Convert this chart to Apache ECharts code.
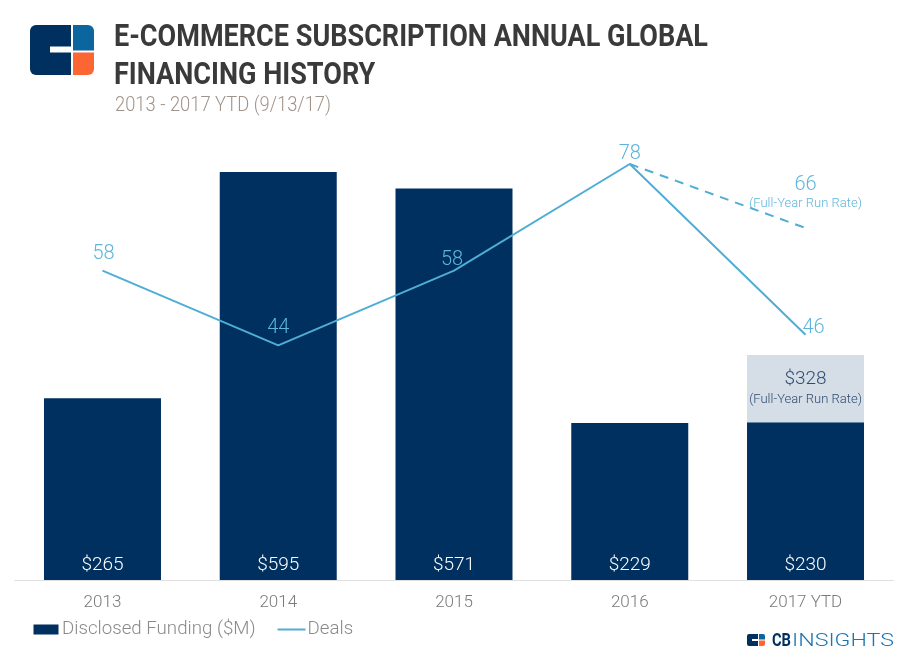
<!DOCTYPE html>
<html><head><meta charset="utf-8">
<script src="https://cdn.jsdelivr.net/npm/echarts@6/dist/echarts.min.js"></script>
<style>html,body{margin:0;padding:0;background:#fff}#c{width:909px;height:660px}</style>
</head><body><div id="c"></div>
<script>
const categories = ['2013', '2014', '2015', '2016', '2017 YTD'];
const funding = [265, 595, 571, 229, 230];
const fundingRunRate = [null, null, null, null, 328];
const deals = [58, 44, 58, 78, 46];
const dealsRunRate = [null, null, null, null, 66];
const titleLines = ['E-COMMERCE SUBSCRIPTION ANNUAL GLOBAL', 'FINANCING HISTORY'];
const subtitle = '2013 - 2017 YTD (9/13/17)';
const runRateNote = '(Full-Year Run Rate)';

const NAVY = '#00305f', LINE = '#4fadd6', LBL = '#5cb5dc';
const ctx = document.createElement('canvas').getContext('2d');
function fit(text, font, target) { ctx.font = font; return target / ctx.measureText(text).width; }

const titleFont = 'bold 31px Roboto';
const tScale = fit(titleLines[0], titleFont, 594);
const subFont = '300 20px Roboto';
const sScale = fit(subtitle, subFont, 216);
const cbFont = 'bold 18px Roboto';
const cbScale = fit('CB', cbFont, 19);
const insFont = '300 18px Roboto';
const insScale = fit('INSIGHTS', insFont, 102);

const runRatePiece = fundingRunRate.map((v, i) => v == null ? null : v - funding[i]);
const dealsProjection = dealsRunRate.map((v, i) => {
  if (v != null) return v;
  if (dealsRunRate[i + 1] != null) return deals[i];
  return null;
});
const dealOffsets = [[1, 3], [0, 3], [-2, 9], [0, 10], [8, 13]];

const chart = echarts.init(document.getElementById('c'));
chart.setOption({
  animation: false,
  textStyle: { fontFamily: 'Roboto' },
  grid: { left: 14.6, right: 15.6, top: 100, bottom: 80 },
  legend: {
    left: 33.5, top: 620, padding: 0, itemWidth: 28, itemHeight: 10, itemGap: 22,
    data: [{ name: 'Disclosed Funding ($M)', icon: 'path://M0,0H25V10H0Z' }, { name: 'Deals', icon: 'path://M0,0H28V2H0Z' }],
    textStyle: { fontSize: 18.7, color: '#8a8a8a', fontWeight: 300, fontFamily: 'Roboto', padding: [0, 0, 0, -3] }
  },
  xAxis: {
    type: 'category', data: categories,
    axisLine: { lineStyle: { color: '#e0e0e0', width: 1 } },
    axisTick: { show: false },
    axisLabel: { color: '#7a7a7a', fontSize: 17, fontWeight: 300, margin: 14 }
  },
  yAxis: [
    { type: 'value', min: 0, max: 700, show: false, splitLine: { show: false } },
    { type: 'value', min: 0, max: 90, show: false, splitLine: { show: false } }
  ],
  series: [
    {
      name: 'Disclosed Funding ($M)', type: 'bar', stack: 'f', data: funding, barWidth: 117,
      itemStyle: { color: NAVY },
      label: { show: true, position: 'insideBottom', distance: 5, color: '#fff', fontSize: 19, fontWeight: 300,
        formatter: p => '$' + p.value }
    },
    {
      name: 'Run Rate', type: 'bar', stack: 'f', data: runRatePiece, barWidth: 117,
      itemStyle: { color: '#d5dde6' },
      label: { show: true, position: 'inside',
        formatter: p => '{a|$' + fundingRunRate[p.dataIndex] + '}\n{b|' + runRateNote + '}',
        rich: { a: { fontSize: 19, color: '#2f4c70', lineHeight: 22, fontWeight: 300 },
                b: { fontSize: 13, color: '#2f4c70', lineHeight: 18, fontWeight: 300 } } }
    },
    {
      name: 'Deals', type: 'line', yAxisIndex: 1, data: deals.map((v, i) => ({
        value: v, label: { offset: dealOffsets[i] } })),
      symbol: 'circle', symbolSize: 0.01, showSymbol: true,
      lineStyle: { color: LINE, width: 2 }, itemStyle: { color: LINE },
      label: { show: true, position: 'top', distance: 10, color: LBL, fontSize: 20, fontWeight: 300 }
    },
    {
      name: 'Deals Run Rate', type: 'line', yAxisIndex: 1, data: dealsProjection,
      symbol: 'circle', symbolSize: 0.01, showSymbol: true,
      lineStyle: { color: LINE, width: 2, type: [9, 7] }, itemStyle: { color: LINE },
      label: { show: true, position: 'top', distance: 16,
        formatter: p => dealsRunRate[p.dataIndex] == null ? '' : '{a|' + p.value + '}\n{b|' + runRateNote + '}',
        rich: { a: { fontSize: 20, color: LBL, lineHeight: 22, fontWeight: 300 },
                b: { fontSize: 13, color: LBL, lineHeight: 16, fontWeight: 300 } } }
    }
  ],
  graphic: [
    { type: 'rect', shape: { x: 30, y: 25, width: 41, height: 50, r: [6, 0, 0, 6] }, style: { fill: NAVY } },
    { type: 'rect', shape: { x: 50, y: 46.5, width: 21, height: 6 }, style: { fill: '#fff' } },
    { type: 'rect', shape: { x: 73, y: 25, width: 21, height: 25.5, r: [0, 6, 0, 0] }, style: { fill: '#0b66a0' } },
    { type: 'rect', shape: { x: 73, y: 52.5, width: 21, height: 22.5, r: [0, 0, 6, 0] }, style: { fill: '#fc6633' } },
    { type: 'text', x: 114, y: 38, scaleX: tScale, style: { text: titleLines[0], font: titleFont, fill: '#3a3a3a', verticalAlign: 'middle' } },
    { type: 'text', x: 114, y: 76, scaleX: tScale, style: { text: titleLines[1], font: titleFont, fill: '#3a3a3a', verticalAlign: 'middle' } },
    { type: 'text', x: 115, y: 106, scaleX: sScale, style: { text: subtitle, font: subFont, fill: '#a0948a', verticalAlign: 'middle' } },
    { type: 'rect', shape: { x: 747, y: 634, width: 11, height: 12, r: [2, 0, 0, 2] }, style: { fill: NAVY } },
    { type: 'rect', shape: { x: 752, y: 639, width: 6, height: 2 }, style: { fill: '#fff' } },
    { type: 'rect', shape: { x: 759, y: 634, width: 6, height: 5.5, r: [0, 2, 0, 0] }, style: { fill: '#0b66a0' } },
    { type: 'rect', shape: { x: 759, y: 640.5, width: 6, height: 5.5, r: [0, 0, 2, 0] }, style: { fill: '#fc6633' } },
    { type: 'text', x: 772, y: 641, scaleX: cbScale, style: { text: 'CB', font: cbFont, fill: NAVY, verticalAlign: 'middle' } },
    { type: 'text', x: 792, y: 641, scaleX: insScale, style: { text: 'INSIGHTS', font: insFont, fill: '#1b75b4', verticalAlign: 'middle' } }
  ]
});
</script></body></html>
